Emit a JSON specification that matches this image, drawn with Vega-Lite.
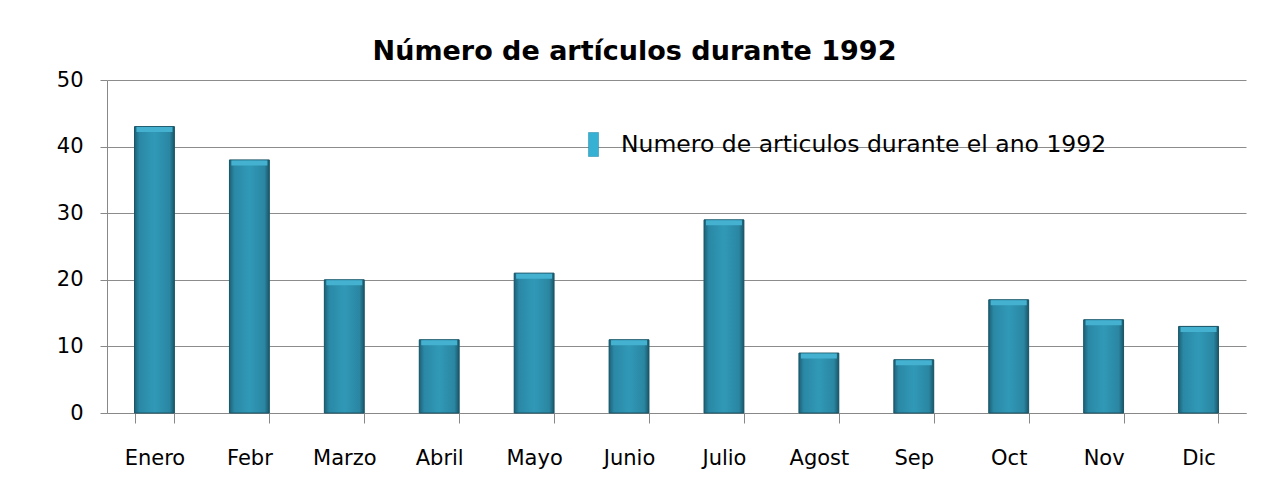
{
  "$schema": "https://vega.github.io/schema/vega-lite/v6.json",
  "autosize": "none",
  "width": 1139,
  "height": 333,
  "padding": {"left": 107, "top": 80, "right": 29, "bottom": 86},
  "background": "white",
  "title": {
    "text": "Número de artículos durante 1992",
    "font": "DejaVu Sans",
    "fontSize": 27,
    "fontWeight": "bold",
    "color": "#000000",
    "anchor": "middle",
    "dx": -42,
    "offset": 3
  },
  "data": {
    "values": [
      {"mes": "Enero", "valor": 43, "serie": "Numero de articulos durante el ano 1992"},
      {"mes": "Febr", "valor": 38, "serie": "Numero de articulos durante el ano 1992"},
      {"mes": "Marzo", "valor": 20, "serie": "Numero de articulos durante el ano 1992"},
      {"mes": "Abril", "valor": 11, "serie": "Numero de articulos durante el ano 1992"},
      {"mes": "Mayo", "valor": 21, "serie": "Numero de articulos durante el ano 1992"},
      {"mes": "Junio", "valor": 11, "serie": "Numero de articulos durante el ano 1992"},
      {"mes": "Julio", "valor": 29, "serie": "Numero de articulos durante el ano 1992"},
      {"mes": "Agost", "valor": 9, "serie": "Numero de articulos durante el ano 1992"},
      {"mes": "Sep", "valor": 8, "serie": "Numero de articulos durante el ano 1992"},
      {"mes": "Oct", "valor": 17, "serie": "Numero de articulos durante el ano 1992"},
      {"mes": "Nov", "valor": 14, "serie": "Numero de articulos durante el ano 1992"},
      {"mes": "Dic", "valor": 13, "serie": "Numero de articulos durante el ano 1992"}
    ]
  },
  "encoding": {
    "x": {
      "field": "mes",
      "type": "nominal",
      "sort": null,
      "title": null,
      "scale": {"paddingInner": 0.58, "paddingOuter": 0.29},
      "axis": {
        "labelAngle": 0,
        "labelFont": "DejaVu Sans",
        "labelFontSize": 21,
        "labelColor": "#000000",
        "labelPadding": 24,
        "tickBand": "extent",
        "tickSize": 10,
        "tickColor": "#888888",
        "domainColor": "#888888",
        "grid": false
      }
    },
    "y": {
      "field": "valor",
      "type": "quantitative",
      "title": null,
      "scale": {"domain": [0, 50]},
      "axis": {
        "values": [0, 10, 20, 30, 40, 50],
        "labelFont": "DejaVu Sans",
        "labelFontSize": 21,
        "labelColor": "#000000",
        "labelPadding": 17,
        "tickSize": 7,
        "tickColor": "#888888",
        "domainColor": "#888888",
        "gridColor": "#8c8c8c",
        "gridOpacity": 1
      }
    }
  },
  "layer": [
    {
      "mark": {"type": "bar"},
      "encoding": {
        "color": {
          "field": "serie",
          "type": "nominal",
          "scale": {"range": ["#36b0d3"]},
          "legend": {
            "title": null,
            "orient": "none",
            "legendX": 474,
            "legendY": 52,
            "symbolType": "M-0.42,-1H0.42V1H-0.42Z",
            "symbolSize": 576,
            "symbolStrokeColor": "#1e86a6",
            "symbolStrokeWidth": 0.5,
            "labelFont": "DejaVu Sans",
            "labelFontSize": 23.5,
            "labelColor": "#000000",
            "labelOffset": 15,
            "labelLimit": 0
          }
        }
      }
    },
    {
      "mark": {
        "type": "bar",
        "stroke": "#1b5566",
        "strokeWidth": 1,
        "fill": {
          "gradient": "linear",
          "x1": 0, "x2": 1, "y1": 0, "y2": 0,
          "stops": [
            {"offset": 0, "color": "#1d6177"},
            {"offset": 0.12, "color": "#2a88a5"},
            {"offset": 0.5, "color": "#3099b7"},
            {"offset": 0.88, "color": "#2a86a2"},
            {"offset": 1, "color": "#1a5668"}
          ]
        }
      }
    },
    {
      "mark": {
        "type": "tick",
        "orient": "horizontal",
        "thickness": 5,
        "size": 36,
        "yOffset": 3,
        "color": "#44b1d0",
        "opacity": 1
      }
    }
  ],
  "config": {
    "view": {"stroke": null}
  }
}
